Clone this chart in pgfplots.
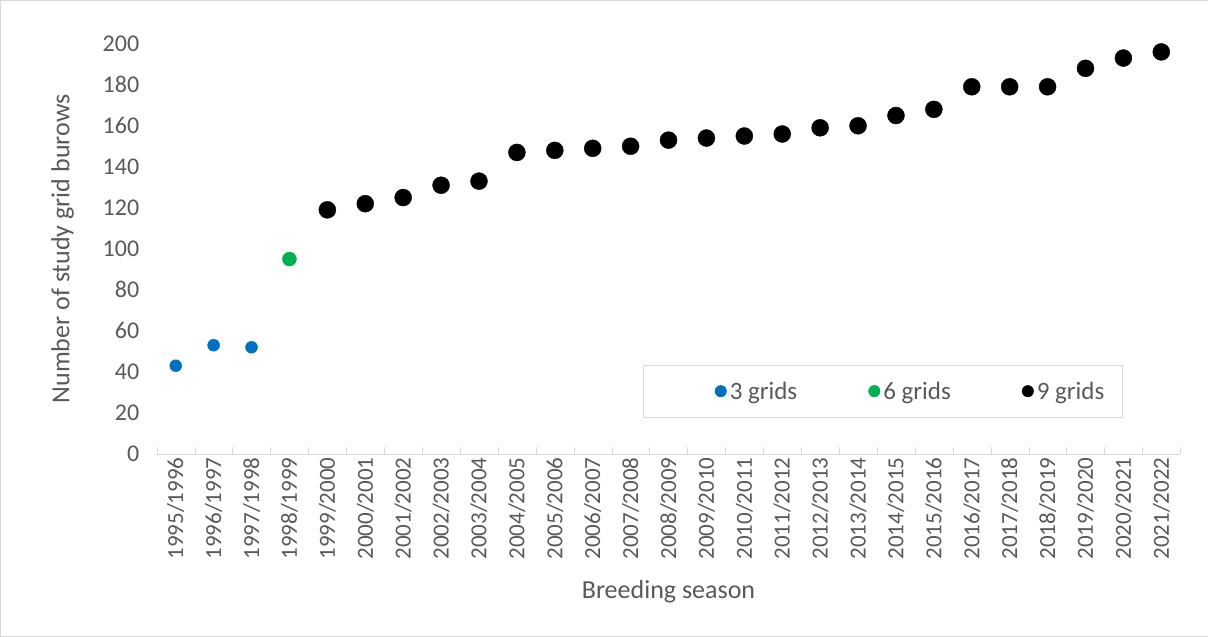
\documentclass[border=0pt]{standalone}
\usepackage{pgfplots}
\pgfplotsset{compat=1.18}
\usepackage{fontspec}
\setmainfont{Carlito}
\definecolor{tg}{HTML}{595959}
\definecolor{ax}{HTML}{D9D9D9}
\definecolor{b1}{HTML}{0070C0}
\definecolor{g1}{HTML}{00B050}
\begin{document}
\begin{tikzpicture}[x=1pt,y=1pt]
\begin{axis}[at={(157pt,183pt)}, anchor=south west, scale only axis, width=1023pt, height=410pt,
 xmin=-0.5, xmax=26.5, ymin=0, ymax=200, ytick={0,20,...,200},
 x axis line style={draw=ax}, axis x line*=bottom, axis y line*=left,
 y axis line style={draw=none},
 xtick={0,...,26}, major tick length=0pt,
 minor xtick={-0.5,0.5,...,26.5}, minor tick length=7pt, minor tick style={ax},
 xtick pos=bottom, ytick style={draw=none},
 xticklabels={1995/1996,1996/1997,1997/1998,1998/1999,1999/2000,2000/2001,2001/2002,2002/2003,2003/2004,2004/2005,2005/2006,2006/2007,2007/2008,2008/2009,2009/2010,2010/2011,2011/2012,2012/2013,2013/2014,2014/2015,2015/2016,2016/2017,2017/2018,2018/2019,2019/2020,2020/2021,2021/2022},
 x tick label style={rotate=90, anchor=east, font=\fontsize{23}{25}\selectfont, text=tg},
 y tick label style={font=\fontsize{24}{26}\selectfont, text=tg, xshift=-14pt},
 /pgf/number format/assume math mode=true,
 xlabel={Breeding season}, ylabel={Number of study grid burows},
 label style={font=\fontsize{26}{28}\selectfont, text=tg},
 xlabel style={yshift=-14pt}, ylabel style={yshift=22pt},
 legend columns=3,
 legend style={at={(0.545,0.153)}, anchor=west, draw=none, fill=none, inner sep=0pt, font=\fontsize{25}{27}\selectfont, text=tg,
   /tikz/every even column/.append style={column sep=68pt},
   nodes={inner xsep=3pt}},
 legend image code/.code={\fill[#1,draw=none] (0.3em,0) circle (6pt);},
 legend cell align=left,
]
\draw[ax] (rel axis cs:0.475,0.09) rectangle (rel axis cs:0.943,0.217);
\addplot[only marks, mark=*, mark size=6pt, color=b1, mark options={draw=none,fill=b1}] coordinates {(0,43)(1,53)(2,52)};
\addlegendentry{3 grids}
\addplot[only marks, mark=*, mark size=7pt, color=g1, mark options={draw=none,fill=g1}] coordinates {(3,95)};
\addlegendentry{6 grids}
\addplot[only marks, mark=*, mark size=8.5pt, color=black, mark options={draw=none,fill=black}] coordinates {(4,119)(5,122)(6,125)(7,131)(8,133)(9,147)(10,148)(11,149)(12,150)(13,153)(14,154)(15,155)(16,156)(17,159)(18,160)(19,165)(20,168)(21,179)(22,179)(23,179)(24,188)(25,193)(26,196)};
\addlegendentry{9 grids}
\end{axis}
\pgfresetboundingbox
\draw[ax] (0.5,0.5) rectangle (1207.5,636.5);
\end{tikzpicture}
\end{document}
